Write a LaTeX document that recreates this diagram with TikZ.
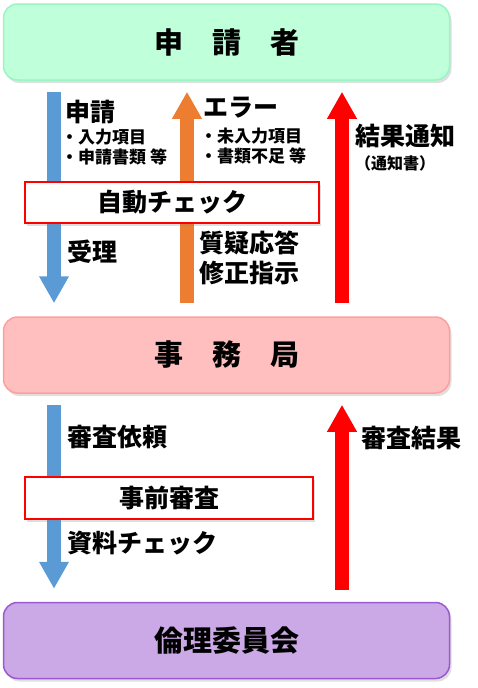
\documentclass[tikz,border=0pt]{standalone}
\usepackage{fontspec}
\setmainfont{Noto Sans CJK JP}
\usetikzlibrary{arrows.meta,shadows}

\definecolor{appfill}{HTML}{BFFFD9}
\definecolor{appline}{HTML}{99F5C4}
\definecolor{offfill}{HTML}{FFBFBF}
\definecolor{offline}{HTML}{FF9E9E}
\definecolor{ethfill}{HTML}{CBA8E6}
\definecolor{ethline}{HTML}{9B59D0}
\definecolor{flowblue}{HTML}{5B9BD5}
\definecolor{floworange}{HTML}{ED7D31}

\begin{document}
\begin{tikzpicture}[x=1pt, y=-1pt,
    party/.style={rounded corners=14pt, line width=1.5pt, minimum width=446pt, minimum height=76pt,
        font=\bfseries\fontsize{29}{32}\selectfont,
        drop shadow={shadow xshift=2pt, shadow yshift=-3pt, opacity=0.25}},
    checkbox/.style={draw=red, line width=2pt, fill=white, font=\bfseries\fontsize{25}{27}\selectfont,
        drop shadow={shadow xshift=2pt, shadow yshift=-3pt, opacity=0.25}},
    flow/.style={line width=14pt, -{Triangle[width=28pt, length=27pt]}},
    lbl/.style={anchor=west, inner sep=0pt, font=\bfseries\fontsize{25}{27}\selectfont},
    note/.style={anchor=west, inner sep=0pt, font=\bfseries\fontsize{17}{19}\selectfont}]

    \useasboundingbox (0,0) rectangle (477,688);

    \node[party, draw=appline, fill=appfill] (applicant) at (226.5,42) {申　請　者};
    \node[party, draw=offline, fill=offfill] (office) at (226.5,355) {事　務　局};
    \node[party, draw=ethline, fill=ethfill] (ethics) at (226.5,640.5) {倫理委員会};

    \coordinate (colA) at (54,0);
    \coordinate (colB) at (187,0);
    \coordinate (colC) at (342,0);

    \draw[flow, flowblue, shorten <=11pt, shorten >=13pt] (applicant.south -| colA) -- (office.north -| colA);
    \draw[flow, floworange, shorten <=13pt, shorten >=11pt] (office.north -| colB) -- (applicant.south -| colB);
    \draw[flow, red, shorten <=13pt, shorten >=11pt] (office.north -| colC) -- (applicant.south -| colC);

    \draw[flow, flowblue, shorten <=11pt, shorten >=13pt] (office.south -| colA) -- (ethics.north -| colA);
    \draw[flow, red, shorten <=12pt, shorten >=11pt] (ethics.north -| colC) -- (office.south -| colC);

    \node[checkbox, minimum width=294pt, minimum height=41pt] (autocheck) at (172,202.5) {自動チェック};
    \node[checkbox, minimum width=288pt, minimum height=42pt] (prereview) at (169,498) {事前審査};

    \node[lbl] (apply) at (65,112) {申請};
    \node[note] (applyA) at (61,137) {・入力項目};
    \node[note] (applyB) at (61,157) {・申請書類 等};
    \node[lbl] (accept) at (67,252) {受理};

    \node[lbl] (error) at (203,108) {エラー};
    \node[note] (errorA) at (200,136) {・未入力項目};
    \node[note] (errorB) at (200,156) {・書類不足 等};
    \node[lbl] (qanda) at (199,243) {質疑応答};
    \node[lbl] (fix) at (199,273) {修正指示};

    \node[lbl] (result) at (355,136) {結果通知};
    \node[note, font=\bfseries\fontsize{16}{18}\selectfont] (notice) at (355,163) {（通知書）};

    \node[lbl] (request) at (67,437) {審査依頼};
    \node[lbl] (docs) at (67,543) {資料チェック};
    \node[lbl] (review) at (361,438) {審査結果};
\end{tikzpicture}
\end{document}
